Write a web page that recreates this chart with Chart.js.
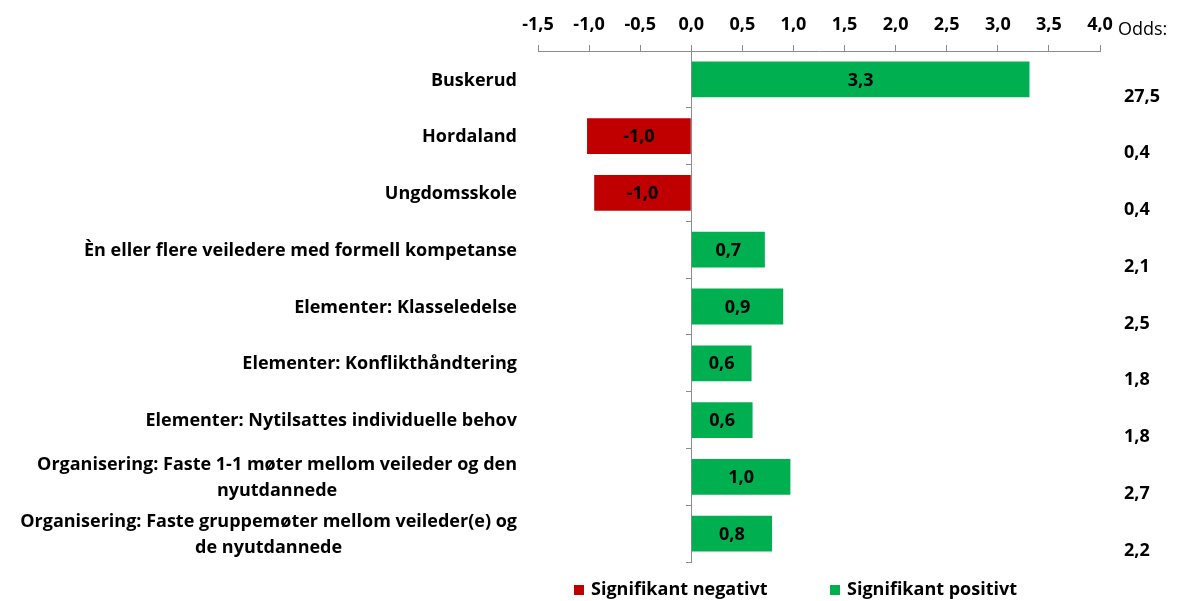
<!DOCTYPE html>
<html>
<head>
<meta charset="utf-8">
<script src="https://cdn.jsdelivr.net/npm/chart.js@4"></script>
<style>
html,body{margin:0;padding:0;background:#fff;}
#wrap{width:1179px;height:601px;position:relative;}
</style>
</head>
<body>
<div id="wrap"><canvas id="c" width="1179" height="601"></canvas></div>
<script>
const categories = [
  ["Buskerud"],
  ["Hordaland"],
  ["Ungdomsskole"],
  ["Èn eller flere veiledere med formell kompetanse"],
  ["Elementer: Klasseledelse"],
  ["Elementer: Konflikthåndtering"],
  ["Elementer: Nytilsattes individuelle behov"],
  ["Organisering: Faste 1-1 møter mellom veileder og den", "nyutdannede"],
  ["Organisering: Faste gruppemøter mellom veileder(e) og", "de nyutdannede"]
];
const coefficients = [3.31, -1.02, -0.95, 0.72, 0.90, 0.59, 0.60, 0.97, 0.79];
const coefficientLabels = ["3,3", "-1,0", "-1,0", "0,7", "0,9", "0,6", "0,6", "1,0", "0,8"];
const oddsValues = ["27,5", "0,4", "0,4", "2,1", "2,5", "1,8", "1,8", "2,7", "2,2"];
const oddsTitle = "Odds:";
const legendLabels = ["Signifikant negativt", "Signifikant positivt"];
const xMin = -1.5, xMax = 4.0, xStep = 0.5;

const RED = '#C00000', GREEN = '#00B050';
const FONT = '"Open Sans", "Liberation Sans", Arial, sans-serif';
const AXIS_GREY = '#8c8c8c';

const textPlugin = {
  id: 'textPlugin',
  afterDatasetsDraw(chart) {
    const ctx = chart.ctx;
    const meta = chart.getDatasetMeta(0);
    const yScale = chart.scales.y;
    ctx.save();
    ctx.fillStyle = '#000';
    ctx.font = 'bold 18px ' + FONT;
    ctx.textAlign = 'center';
    ctx.textBaseline = 'middle';
    meta.data.forEach((bar, i) => {
      const cx = (bar.x + bar.base) / 2;
      ctx.fillText(coefficientLabels[i], cx, bar.y + 1);
    });
    const rightEdge = 517;
    const lineH = 26;
    categories.forEach((lines, i) => {
      const yc = yScale.getPixelForValue(i);
      const widths = lines.map(l => ctx.measureText(l).width);
      const w = Math.max(...widths);
      const cx = rightEdge - w / 2;
      const y0 = yc - (lines.length - 1) * lineH / 2;
      lines.forEach((l, k) => ctx.fillText(l, cx, y0 + k * lineH + 1));
    });
    ctx.textAlign = 'left';
    oddsValues.forEach((o, i) => {
      const yc = yScale.getPixelForValue(i);
      ctx.fillText(o, 1124, yc + 17);
    });
    ctx.font = '18px ' + FONT;
    ctx.textBaseline = 'alphabetic';
    ctx.fillText(oddsTitle, 1118, 35);
    ctx.font = 'bold 18px ' + FONT;
    ctx.textBaseline = 'middle';
    const legendX = [574, 830];
    const legendColors = [RED, GREEN];
    legendLabels.forEach((t, i) => {
      ctx.fillStyle = legendColors[i];
      ctx.fillRect(legendX[i], 585, 10, 10);
      ctx.fillStyle = '#000';
      ctx.fillText(t, legendX[i] + 17, 590);
    });
    ctx.restore();
  }
};

new Chart(document.getElementById('c'), {
  type: 'bar',
  data: {
    labels: categories.map(c => c.join(' ')),
    datasets: [{
      data: coefficients,
      backgroundColor: ctx => (coefficients[ctx.dataIndex] < 0 ? RED : GREEN),
      borderWidth: 0,
      barPercentage: 0.63,
      categoryPercentage: 1.0
    }]
  },
  options: {
    indexAxis: 'y',
    responsive: false,
    animation: false,
    devicePixelRatio: 1,
    layout: { padding: { left: 538, right: 79, top: 0, bottom: 39 } },
    plugins: { legend: { display: false }, tooltip: { enabled: false } },
    scales: {
      x: {
        position: 'top',
        min: xMin,
        max: xMax,
        afterFit: s => { s.height = 51; },
        afterBuildTicks: s => {
          const t = [];
          for (let v = xMin; v <= xMax + 1e-9; v += xStep) t.push({ value: Math.round(v * 10) / 10 });
          s.ticks = t;
        },
        ticks: {
          callback: v => Number(v).toFixed(1).replace('.', ','),
          font: { family: FONT, size: 18, weight: 'bold' },
          color: '#000',
          padding: 9,
          maxRotation: 0,
          autoSkip: false
        },
        grid: { drawOnChartArea: false, tickLength: 6, color: AXIS_GREY },
        border: { color: AXIS_GREY, width: 1 }
      },
      y: {
        type: 'category',
        position: { x: 0 },
        offset: true,
        ticks: { display: false },
        grid: { drawOnChartArea: false, tickLength: 5, color: AXIS_GREY, offset: true },
        border: { color: AXIS_GREY, width: 1 }
      }
    }
  },
  plugins: [textPlugin]
});
</script>
</body>
</html>
